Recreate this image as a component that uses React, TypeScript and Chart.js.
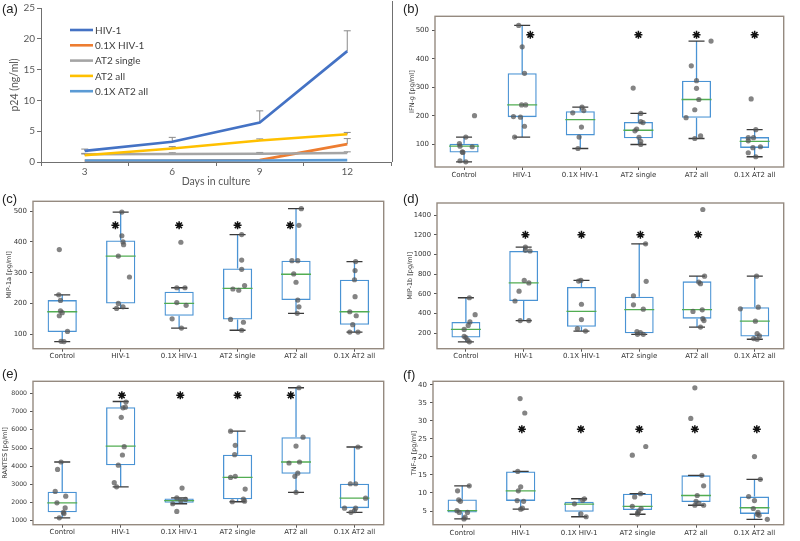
import React, { useEffect, useRef } from 'react';
import { Chart, registerables } from 'chart.js';
Chart.register(...registerables);

// ---------- shared ----------
const GROUPS = ['Control', 'HIV-1', '0.1X HIV-1', 'AT2 single', 'AT2 all', '0.1X AT2 all'];

// ---------- panel (a) ----------
const DAYS = ['3', '6', '9', '12'];
const A_SERIES = ['HIV-1', '0.1X HIV-1', 'AT2 single', 'AT2 all', '0.1X AT2 all'];
const A_COLORS = ['#4472C4', '#ED7D31', '#A5A5A5', '#FFC000', '#5B9BD5'];
const A_HIV1 = [1.8, 3.3, 6.4, 18.0];
const A_HIV1_ERR = [0.3, 0.7, 1.9, 3.3];
const A_HIV1_01 = [0.2, 0.2, 0.3, 2.9];
const A_HIV1_01_ERR = [0, 0, 0, 0.9];
const A_AT2_SINGLE = [1.25, 1.3, 1.35, 1.45];
const A_AT2_SINGLE_ERR = [0.15, 0.2, 0.2, 0.2];
const A_AT2_ALL = [1.1, 2.2, 3.5, 4.5];
const A_AT2_ALL_ERR = [0.2, 0.3, 0.25, 0.3];
const A_AT2_ALL_01 = [0.25, 0.25, 0.25, 0.3];
const A_AT2_ALL_01_ERR = [0, 0, 0, 0];
const A_Y_TICKS = [0, 5, 10, 15, 20, 25];

// ---------- panel (b) IFN-g ----------
const B_LO = [38, 125, 85, 99, 120, 56];
const B_Q1 = [71, 195, 131, 121, 193, 87];
const B_MED = [93, 238, 186, 149, 257, 110];
const B_Q3 = [102, 349, 216, 178, 323, 125];
const B_HI = [125, 517, 230, 208, 462, 151];
const B_PTS = [
  [125, 102, 93, 91, 73, 71, 42, 38, 200],
  [517, 442, 349, 238, 238, 197, 195, 163, 125],
  [230, 218, 210, 160, 125, 85],
  [297, 208, 179, 176, 147, 153, 124, 110, 99],
  [462, 375, 323, 296, 257, 221, 193, 129, 120],
  [259, 151, 123, 123, 112, 88, 91, 70, 56],
];
const B_JIT = [
  [0.03, -0.08, -0.07, 0.14, -0.03, -0.02, -0.07, 0.03, 0.18],
  [-0.06, 0, 0.04, -0.01, 0.06, -0.15, -0.03, 0.04, -0.13],
  [0.03, 0.06, -0.13, 0.02, -0.02, -0.04],
  [-0.09, 0.04, 0.04, 0.08, -0.06, -0.03, 0.01, 0.04, 0.04],
  [0.25, -0.09, 0, 0, 0.04, -0.03, -0.18, 0.07, -0.03],
  [-0.06, 0.02, -0.11, -0.02, -0.11, -0.03, 0.1, -0.11, 0.02],
];
const B_STAR_X = [1.14, 3, 4, 5];
const B_STAR_Y = 484;
const B_TICKS = [100, 200, 300, 400, 500];

// ---------- panel (c) MIP-1a ----------
const C_LO = [76, 184, 120, 113, 168, 107];
const C_Q1 = [107, 200, 160, 148, 211, 131];
const C_MED = [173, 354, 200, 249, 295, 173];
const C_Q3 = [211, 405, 238, 314, 339, 277];
const C_HI = [228, 497, 251, 424, 508, 336];
const C_PTS = [
  [375, 228, 210, 176, 170, 160, 109, 77, 76],
  [497, 420, 400, 391, 354, 286, 200, 189, 184],
  [399, 251, 251, 203, 194, 150, 120],
  [424, 341, 311, 258, 247, 243, 148, 139, 113],
  [508, 454, 339, 339, 296, 269, 211, 189, 168],
  [336, 307, 277, 222, 173, 160, 131, 107, 107],
];
const C_JIT = [
  [-0.05, -0.06, -0.03, -0.03, 0, -0.05, 0.09, -0.02, 0.03],
  [0.02, 0.02, 0.04, 0.05, -0.04, 0.15, -0.04, 0.04, -0.07],
  [0.03, -0.04, 0.1, -0.04, 0.12, -0.12, 0.04],
  [0.07, 0.07, 0.07, 0.12, -0.08, 0.02, -0.12, 0.1, 0.07],
  [0.09, 0.05, -0.07, 0.03, -0.04, 0, 0.03, 0.05, 0.02],
  [0.02, 0.01, 0, 0.01, -0.08, 0.03, -0.03, -0.08, 0.06],
];
const C_STAR_X = [0.91, 2, 3, 3.9];
const C_STAR_Y = 454;
const C_TICKS = [100, 200, 300, 400, 500];

// ---------- panel (d) MIP-1b ----------
const D_LO = [114, 329, 223, 190, 263, 140];
const D_Q1 = [157, 528, 266, 200, 349, 167];
const D_MED = [240, 711, 422, 440, 440, 323];
const D_Q3 = [316, 1035, 671, 571, 727, 465];
const D_HI = [561, 1075, 737, 1108, 780, 780];
const D_PTS = [
  [561, 389, 316, 280, 240, 170, 157, 130, 114],
  [1075, 1042, 1035, 737, 711, 628, 528, 329, 329],
  [737, 730, 495, 339, 247, 223],
  [1108, 727, 581, 489, 445, 217, 207, 190, 190],
  [1456, 780, 720, 704, 438, 422, 349, 329, 263],
  [780, 465, 449, 323, 197, 174, 147, 140],
];
const D_JIT = [
  [0.06, 0.16, 0.07, 0.04, -0.03, -0.03, 0, 0.03, 0.06],
  [0.03, 0.03, 0.11, 0.01, 0.09, -0.08, -0.15, -0.06, 0.09],
  [-0.01, -0.05, 0, 0, -0.07, 0.07],
  [0.11, 0.12, -0.1, -0.1, 0.07, -0.04, 0.02, -0.03, 0.07],
  [0.1, 0.13, 0.03, 0.06, 0.09, -0.07, 0.1, 0.12, 0.06],
  [0.03, 0.06, -0.25, 0.01, 0.04, 0.08, -0.02, 0.04],
];
const D_STAR_X = [1.03, 2, 3.02, 4.02];
const D_STAR_Y = 1200;
const D_TICKS = [200, 400, 600, 800, 1000, 1200, 1400];

// ---------- panel (e) RANTES ----------
const E_LO = [1170, 2870, 1940, 2050, 2570, 1470];
const E_Q1 = [1468, 4060, 1990, 2190, 3590, 1700];
const E_MED = [1993, 5110, 2110, 3390, 4235, 2250];
const E_Q3 = [2606, 7250, 2230, 4640, 5600, 3040];
const E_HI = [4235, 7560, 2260, 5930, 8315, 5060];
const E_PTS = [
  [4235, 3830, 2620, 2360, 1993, 1713, 1468, 1400, 1170],
  [7530, 7250, 7210, 6690, 5080, 4620, 4060, 3100, 2870],
  [2800, 2260, 2180, 2110, 1940, 1520],
  [5930, 5150, 4640, 3450, 3390, 2750, 2190, 2080, 2050],
  [8315, 5600, 5110, 4235, 4180, 3620, 3450, 2570],
  [5060, 3040, 3040, 2250, 1700, 1700, 1560, 1470],
];
const E_JIT = [
  [-0.02, -0.08, -0.12, 0.06, -0.09, 0.05, 0.02, 0.03, -0.05],
  [0.09, 0.08, 0.04, 0.01, 0.06, 0.03, -0.04, -0.11, -0.07],
  [0.05, -0.04, 0.11, 0.03, -0.11, -0.04],
  [-0.12, -0.04, -0.05, -0.04, -0.12, 0.13, 0.1, 0.12, -0.09],
  [0.05, 0.12, 0, 0.06, -0.12, 0.03, -0.02, 0],
  [0.06, -0.07, 0.02, 0.19, -0.17, 0.02, 0, -0.06],
];
const E_STAR_X = [1.02, 2.02, 3, 3.91];
const E_STAR_Y = 7900;
const E_TICKS = [1000, 2000, 3000, 4000, 5000, 6000, 7000, 8000];

// ---------- panel (f) TNF-a ----------
const F_LO = [2.8, 5.5, 3.4, 4.1, 6.6, 2.7];
const F_Q1 = [4.6, 7.8, 4.8, 5.3, 7.5, 4.2];
const F_MED = [5.1, 10.6, 6.9, 6.3, 9.3, 5.9];
const F_Q3 = [8.2, 16.0, 7.6, 9.8, 14.9, 9.0];
const F_HI = [12.0, 16.0, 8.4, 9.8, 14.9, 13.8];
const F_PTS = [
  [12.0, 10.6, 8.1, 7.7, 5.1, 4.6, 4.6, 3.3, 2.8],
  [36.2, 32.2, 16.0, 11.7, 10.6, 7.9, 7.7, 5.8, 5.5],
  [8.4, 8.0, 7.0, 4.2, 3.4],
  [22.9, 20.5, 9.8, 8.9, 6.3, 5.7, 5.0, 4.5, 4.1],
  [39.2, 30.7, 14.9, 12.0, 9.3, 7.7, 7.1, 6.6, 6.6],
  [20.1, 13.8, 9.0, 7.9, 5.7, 4.6, 4.1, 3.8, 2.7],
];
const F_JIT = [
  [0.12, -0.08, -0.06, -0.03, -0.09, -0.05, 0.09, 0.05, 0.03],
  [-0.01, 0.07, -0.05, 0, -0.04, -0.06, 0.05, 0.03, 0],
  [0.09, 0.06, -0.08, 0.03, 0.12],
  [0.14, -0.09, 0.05, -0.05, -0.09, 0.06, 0.02, 0, 0],
  [-0.02, -0.09, 0.1, 0.13, 0.02, 0, 0.05, -0.02, 0.13],
  [0, 0.1, -0.1, 0, -0.02, 0.06, 0.05, 0.08, 0.22],
];
const F_STAR_X = [1.02, 2.03, 3.03, 3.98, 5.04];
const F_STAR_Y = 27.7;
const F_TICKS = [5, 10, 15, 20, 25, 30, 35, 40];

// ---------- styles ----------
const FRAME = '#958a80';
const BOX_BLUE = '#4a93d4';
const MED_GREEN = '#52ad52';
const CAP = '#3a3a3a';
const PT = 'rgba(85,85,85,0.72)';
const BOX_FONT = '"DejaVu Sans", sans-serif';
const XL_FONT = 'Lato, "Open Sans", sans-serif';
const XL_AX = '#707070';
const XL_TXT = '#595959';

type Area = { l: number; t: number; r: number; b: number };
type BoxProps = {
  left: number; top: number; w: number; h: number; area: Area;
  yMin: number; yMax: number; yTicks: number[]; yTitle: string; titlePad: number; xPad: number; yFont: number;
  lo: number[]; q1: number[]; med: number[]; q3: number[]; hi: number[];
  pts: number[][]; jit: number[][]; starX: number[]; starY: number;
};

const framePlugin = {
  id: 'frame',
  afterDatasetsDraw(chart: any) {
    const { ctx, chartArea: a } = chart;
    ctx.save();
    ctx.strokeStyle = FRAME;
    ctx.lineWidth = 1.4;
    ctx.strokeRect(a.left, a.top, a.right - a.left, a.bottom - a.top);
    ctx.restore();
  },
};

function BoxPanel(p: BoxProps) {
  const ref = useRef<HTMLCanvasElement>(null);
  useEffect(() => {
    const canvas = ref.current;
    if (!canvas) return;
    const boxData = GROUPS.map((_, i) => ({ x: i, y: [p.q1[i], p.q3[i]] }));
    const whisk: any[] = [];
    GROUPS.forEach((_, i) => {
      whisk.push({ x: i, y: p.q3[i] }, { x: i, y: p.hi[i] }, { x: i, y: null });
      whisk.push({ x: i, y: p.q1[i] }, { x: i, y: p.lo[i] }, { x: i, y: null });
    });
    const caps = GROUPS.flatMap((_, i) => [{ x: i, y: p.lo[i] }, { x: i, y: p.hi[i] }]);
    const meds = GROUPS.map((_, i) => ({ x: i, y: p.med[i] }));
    const points = p.pts.flatMap((arr, i) => arr.map((v, j) => ({ x: i + p.jit[i][j], y: v })));
    const stars = p.starX.map((x) => ({ x, y: p.starY }));
    const padTop = p.area.t - p.top;
    const padRight = p.left + p.w - p.area.r;
    const yW = p.area.l - p.left;
    const xH = p.top + p.h - p.area.b;
    const tickFont = { family: BOX_FONT, size: 7 };
    const chart = new Chart(canvas, {
      type: 'bar',
      data: {
        datasets: [
          { type: 'scatter', data: stars, pointStyle: 'star', pointRadius: 4, pointBorderWidth: 1.5, pointBorderColor: '#111', pointBackgroundColor: '#111' } as any,
          { type: 'scatter', data: points, pointRadius: 2.6, pointBackgroundColor: PT, pointBorderWidth: 0 } as any,
          { type: 'scatter', data: caps, pointStyle: 'line', pointRadius: 8, pointBorderColor: CAP, pointBorderWidth: 1.3 } as any,
          { type: 'scatter', data: meds, pointStyle: 'line', pointRadius: 15, pointBorderColor: MED_GREEN, pointBorderWidth: 1.3 } as any,
          { type: 'scatter', data: whisk, showLine: true, spanGaps: false, pointRadius: 0, borderColor: BOX_BLUE, borderWidth: 1.3 } as any,
          { type: 'bar', data: boxData, backgroundColor: 'rgba(0,0,0,0)', borderColor: BOX_BLUE, borderWidth: 1.3, borderSkipped: false, barPercentage: 1, categoryPercentage: 0.5 } as any,
        ],
      },
      options: {
        animation: false,
        responsive: false,
        events: [],
        layout: { padding: { top: padTop, right: padRight, left: 0, bottom: 0 } },
        plugins: { legend: { display: false }, tooltip: { enabled: false } },
        scales: {
          x: {
            type: 'linear', min: -0.5, max: 5.5, offset: false,
            afterBuildTicks: (s: any) => { s.ticks = GROUPS.map((_, i) => ({ value: i })); },
            afterFit: (s: any) => { s.height = xH; },
            ticks: { callback: (v: any) => GROUPS[Math.round(v)], font: tickFont, color: '#333', padding: p.xPad, maxRotation: 0, autoSkip: false },
            grid: { display: true, offset: false, drawOnChartArea: false, drawTicks: true, tickLength: 3, color: '#555' },
            border: { display: false },
          },
          y: {
            type: 'linear', min: p.yMin, max: p.yMax, beginAtZero: false,
            afterBuildTicks: (s: any) => { s.ticks = p.yTicks.map((v) => ({ value: v })); },
            afterFit: (s: any) => { s.width = yW; },
            ticks: { font: { family: BOX_FONT, size: p.yFont }, color: '#333', padding: 3, callback: (v: any) => String(v) },
            grid: { display: true, drawOnChartArea: false, drawTicks: true, tickLength: 3, color: '#555' },
            border: { display: false },
            title: { display: true, text: p.yTitle, font: { family: BOX_FONT, size: 6.5 }, color: '#333', padding: { top: p.titlePad, bottom: 0 } },
          },
        },
      } as any,
      plugins: [framePlugin],
    });
    return () => chart.destroy();
  }, []);
  return (
    <canvas ref={ref} width={p.w} height={p.h}
      style={{ position: 'absolute', left: p.left, top: p.top, width: p.w, height: p.h }} />
  );
}

function LinePanel() {
  const ref = useRef<HTMLCanvasElement>(null);
  useEffect(() => {
    const canvas = ref.current;
    if (!canvas) return;
    const values = [A_HIV1, A_HIV1_01, A_AT2_SINGLE, A_AT2_ALL, A_AT2_ALL_01];
    const errs = [A_HIV1_ERR, A_HIV1_01_ERR, A_AT2_SINGLE_ERR, A_AT2_ALL_ERR, A_AT2_ALL_01_ERR];
    const errPlugin = {
      id: 'errbars',
      beforeDatasetsDraw(chart: any) {
        const { ctx, scales } = chart;
        const x = scales.x, y = scales.y;
        ctx.save();
        ctx.strokeStyle = '#8a8a8a';
        ctx.lineWidth = 1;
        values.forEach((vals, i) => vals.forEach((v, j) => {
          const e = errs[i][j];
          if (!e) return;
          const px = x.getPixelForValue(j);
          const y0 = y.getPixelForValue(v);
          const y1 = y.getPixelForValue(v + e);
          ctx.beginPath();
          ctx.moveTo(px, y0); ctx.lineTo(px, y1);
          ctx.moveTo(px - 3.5, y1); ctx.lineTo(px + 3.5, y1);
          ctx.stroke();
        }));
        ctx.restore();
      },
    };
    const legendPlugin = {
      id: 'innerLegend',
      afterDraw(chart: any) {
        const { ctx, chartArea: a } = chart;
        ctx.save();
        ctx.font = `10px ${XL_FONT}`;
        ctx.textBaseline = 'middle';
        chart.data.datasets.forEach((ds: any, i: number) => {
          const yy = a.top + 22 + i * 15.3;
          ctx.strokeStyle = ds.borderColor;
          ctx.lineWidth = 2.6;
          ctx.beginPath();
          ctx.moveTo(a.left + 29, yy); ctx.lineTo(a.left + 52, yy);
          ctx.stroke();
          ctx.fillStyle = '#404040';
          ctx.fillText(ds.label, a.left + 54, yy + 0.5);
        });
        ctx.strokeStyle = XL_AX;
        ctx.lineWidth = 1;
        ctx.beginPath();
        ctx.moveTo(a.right + 1.5, 1); ctx.lineTo(a.right + 1.5, a.bottom);
        ctx.stroke();
        ctx.restore();
      },
    };
    const tickFont = { family: XL_FONT, size: 10 };
    const chart = new Chart(canvas, {
      type: 'line',
      data: {
        labels: DAYS,
        datasets: A_SERIES.map((name, i) => ({
          label: name, data: values[i], borderColor: A_COLORS[i], backgroundColor: A_COLORS[i],
          borderWidth: 2.6, pointRadius: 0, tension: 0, order: A_SERIES.length - 1 - i,
        })),
      },
      options: {
        animation: false,
        responsive: false,
        events: [],
        layout: { padding: { top: 8, right: 9, left: 0, bottom: 0 } },
        plugins: { legend: { display: false }, tooltip: { enabled: false } },
        scales: {
          x: {
            type: 'category', offset: true,
            afterFit: (s: any) => { s.height = 190 - 162; },
            grid: { display: true, offset: true, drawOnChartArea: false, drawTicks: true, tickLength: 4, color: XL_AX },
            border: { display: true, color: XL_AX, width: 1 },
            ticks: { font: tickFont, color: XL_TXT, padding: 0 },
            title: { display: true, text: 'Days in culture', font: { family: XL_FONT, size: 10.5 }, color: XL_TXT, padding: { top: 0, bottom: 2 } },
          },
          y: {
            min: 0, max: 25,
            afterBuildTicks: (s: any) => { s.ticks = A_Y_TICKS.map((v) => ({ value: v })); },
            afterFit: (s: any) => { s.width = 41; },
            grid: { display: true, drawOnChartArea: false, drawTicks: true, tickLength: 4, color: XL_AX },
            border: { display: true, color: XL_AX, width: 1 },
            ticks: { font: tickFont, color: XL_TXT, padding: 2 },
            title: { display: true, text: 'p24 (ng/ml)', font: { family: XL_FONT, size: 10.5 }, color: XL_TXT, padding: { top: 8, bottom: 0 } },
          },
        },
      } as any,
      plugins: [errPlugin, legendPlugin],
    });
    return () => chart.destroy();
  }, []);
  return <canvas ref={ref} width={400} height={190} style={{ position: 'absolute', left: 0, top: 0, width: 400, height: 190 }} />;
}

const labelStyle = (left: number, top: number): React.CSSProperties => ({
  position: 'absolute', left, top, font: '13px "Liberation Sans", Arial, sans-serif', color: '#222', lineHeight: '15px',
});

export default function App() {
  return (
    <div style={{ position: 'fixed', left: 0, top: 0, width: 800, height: 541, background: '#fff', overflow: 'hidden' }}>
      <LinePanel />
      <BoxPanel left={400} top={0} w={400} h={185} area={{ l: 435, t: 15, r: 793, b: 167 }}
        yMin={20} yMax={549} yTicks={B_TICKS} yTitle="IFN-g [pg/ml]" titlePad={8} xPad={1} yFont={7}
        lo={B_LO} q1={B_Q1} med={B_MED} q3={B_Q3} hi={B_HI} pts={B_PTS} jit={B_JIT} starX={B_STAR_X} starY={B_STAR_Y} />
      <BoxPanel left={0} top={185} w={400} h={180} area={{ l: 33, t: 200, r: 391, b: 351 }}
        yMin={53} yMax={532} yTicks={C_TICKS} yTitle="MIP-1a [pg/ml]" titlePad={5} xPad={0} yFont={7}
        lo={C_LO} q1={C_Q1} med={C_MED} q3={C_Q3} hi={C_HI} pts={C_PTS} jit={C_JIT} starX={C_STAR_X} starY={C_STAR_Y} />
      <BoxPanel left={400} top={185} w={400} h={180} area={{ l: 437, t: 203, r: 794, b: 352 }}
        yMin={44} yMax={1522} yTicks={D_TICKS} yTitle="MIP-1b [pg/ml]" titlePad={6} xPad={0} yFont={6.8}
        lo={D_LO} q1={D_Q1} med={D_MED} q3={D_Q3} hi={D_HI} pts={D_PTS} jit={D_JIT} starX={D_STAR_X} starY={D_STAR_Y} />
      <BoxPanel left={0} top={365} w={400} h={176} area={{ l: 33, t: 379, r: 391, b: 529 }}
        yMin={790} yMax={8670} yTicks={E_TICKS} yTitle="RANTES [pg/ml]" titlePad={1.5} xPad={0} yFont={6.2}
        lo={E_LO} q1={E_Q1} med={E_MED} q3={E_Q3} hi={E_HI} pts={E_PTS} jit={E_JIT} starX={E_STAR_X} starY={E_STAR_Y} />
      <BoxPanel left={400} top={365} w={400} h={176} area={{ l: 433, t: 379, r: 792, b: 527 }}
        yMin={1.2} yMax={41} yTicks={F_TICKS} yTitle="TNF-a [pg/ml]" titlePad={10} xPad={1} yFont={7}
        lo={F_LO} q1={F_Q1} med={F_MED} q3={F_Q3} hi={F_HI} pts={F_PTS} jit={F_JIT} starX={F_STAR_X} starY={F_STAR_Y} />
      <div style={labelStyle(2, 1)}>(a)</div>
      <div style={labelStyle(403, 1)}>(b)</div>
      <div style={labelStyle(2, 191)}>(c)</div>
      <div style={labelStyle(403, 191)}>(d)</div>
      <div style={labelStyle(2, 366)}>(e)</div>
      <div style={labelStyle(403, 367)}>(f)</div>
    </div>
  );
}
